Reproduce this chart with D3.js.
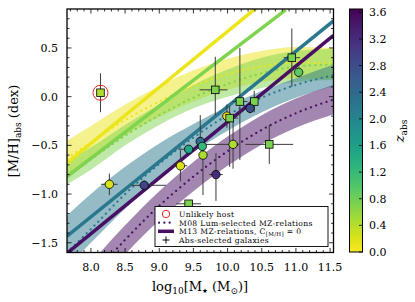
<!DOCTYPE html>
<html>
<head>
<meta charset="utf-8">
<script src="https://cdn.jsdelivr.net/npm/d3@7"></script>
<style>
  body { margin: 0; background: #fff; }
  text { font-family: "DejaVu Serif", serif; fill: #000; }
</style>
</head>
<body>
<svg id="chart" width="415" height="302"></svg>
<script>
// ---- data ----
// M08 luminosity-selected MZ relations (dotted centre + shaded band), one per redshift
var mzMass = [7.65, 8.0, 8.5, 9.0, 9.5, 10.0, 10.5, 11.0, 11.55];
var m08Z = [0.1, 0.7, 2.2, 3.5];
var m08Centre = [
    [-0.63, -0.47, -0.24, -0.05, 0.11, 0.23, 0.31, 0.35, 0.34],
    [-0.80, -0.64, -0.40, -0.19, -0.01, 0.13, 0.24, 0.31, 0.33],
    [-1.60, -1.36, -1.00, -0.69, -0.42, -0.19, -0.01, 0.12, 0.22],
    [-2.16, -1.86, -1.47, -1.12, -0.82, -0.56, -0.34, -0.17, -0.03]
];
var m08Upper = [
    [-0.45, -0.30, -0.08, 0.11, 0.27, 0.39, 0.47, 0.51, 0.50],
    [-0.66, -0.52, -0.29, -0.08, 0.12, 0.28, 0.40, 0.47, 0.49],
    [-1.22, -1.00, -0.72, -0.48, -0.28, -0.10, 0.06, 0.19, 0.33],
    [-2.01, -1.71, -1.32, -0.97, -0.67, -0.41, -0.19, -0.02, 0.12]
];
var m08Lower = [
    [-0.80, -0.63, -0.40, -0.21, -0.05, 0.07, 0.15, 0.19, 0.18],
    [-0.90, -0.75, -0.50, -0.29, -0.12, 0.00, 0.09, 0.15, 0.17],
    [-1.75, -1.50, -1.15, -0.84, -0.57, -0.35, -0.16, -0.01, 0.11],
    [-2.31, -2.01, -1.62, -1.27, -0.97, -0.71, -0.49, -0.32, -0.18]
];

// M13 MZ relations (straight lines), end points [logM, [M/H]]
var m13Z = [0.1, 0.7, 2.2, 3.5];
var m13Lines = [
    [[7.65, -0.68], [10.47, 0.94]],
    [[7.65, -0.82], [10.85, 0.89]],
    [[7.65, -1.433], [11.55, 0.779]],
    [[7.65, -1.608], [11.55, 0.63]]
];

// absorption-selected galaxies
var galMass  = [8.14, 8.27, 8.78, 9.31, 9.43, 9.60, 9.63, 9.64, 9.83, 9.43, 9.82, 10.18, 10.39, 10.33, 9.99, 10.03, 10.08, 10.61, 10.94, 11.04];
var galMH    = [0.04, -0.90, -0.91, -0.71, -0.54, -0.46, -0.51, -0.60, -0.80, -1.10, 0.07, -0.05, -0.05, -0.12, -0.20, -0.22, -0.49, -0.49, 0.40, 0.25];
var galZ     = [0.45, 0.2, 2.9, 0.2, 1.5, 2.3, 1.2, 0.45, 3.2, 0.72, 0.72, 0.72, 0.72, 2.8, 0.05, 0.72, 0.45, 0.72, 0.72, 0.9];
var galShape = ["s", "c", "c", "c", "c", "c", "c", "c", "c", "s", "s", "s", "s", "c", "c", "s", "c", "s", "s", "c"];
var galXLo   = [0, 0.12, 0.19, 0.10, 0.15, 0, 0, 0, 0.10, 0.18, 0.23, 0.11, 0, 0, 0, 0.10, 0.41, 0.35, 0.12, 0];
var galXHi   = [0, 0.12, 0.32, 0.10, 0.12, 0, 0, 0, 0.10, 0.18, 0.18, 0.11, 0, 0, 0, 0.12, 0, 0.35, 0.12, 0];
var galYLo   = [0.20, 0.11, 0.05, 0.16, 0, 0, 0, 0.41, 0.27, 0.02, 0.26, 0.60, 0.11, 0.05, 0.12, 0.50, 0.25, 0.20, 0.30, 0.05];
var galYHi   = [0.20, 0.11, 0.05, 0.16, 0, 0.27, 0, 0.10, 0.22, 0.02, 0.34, 0.55, 0.11, 0.05, 0.12, 0.12, 0.25, 0.20, 0.30, 0.05];
var unlikelyHost = [0];   // index of the unlikely host

var xTicks = [8.0, 8.5, 9.0, 9.5, 10.0, 10.5, 11.0, 11.5];
var yTicks = [-1.5, -1.0, -0.5, 0.0, 0.5];
var zTicks = [0.0, 0.4, 0.8, 1.2, 1.6, 2.0, 2.4, 2.8, 3.2, 3.6];

var legendLabels = ["Unlikely host", "M08 Lum-selected MZ-relations", "M13 MZ-relations, C", "Abs-selected galaxies"];

// ---- scales ----
var svg = d3.select("#chart");
var x = d3.scaleLinear().domain([7.65, 11.55]).range([67, 333.5]);
var y = d3.scaleLinear().domain([-1.6, 0.9]).range([252.5, 9]);
var zc = d3.scaleLinear().domain([0, 3.65]).range([252, 9]);
var zColor = function(z) { return d3.interpolateViridis(1 - z / 3.65); };

function fmt(v) { return d3.format(".1f")(v).replace("-", "\u2212"); }

svg.append("defs").append("clipPath").attr("id", "plotclip")
    .append("rect").attr("x", 67).attr("y", 9).attr("width", 266.5).attr("height", 243.5);

var plot = svg.append("g").attr("clip-path", "url(#plotclip)");

// bands
var band = d3.area()
    .x(function(d) { return x(d[0]); })
    .y0(function(d) { return y(d[1]); })
    .y1(function(d) { return y(d[2]); })
    .curve(d3.curveMonotoneX);
var centre = d3.line()
    .x(function(d) { return x(d[0]); })
    .y(function(d) { return y(d[1]); })
    .curve(d3.curveMonotoneX);

m08Z.forEach(function(z, k) {
    var pts = mzMass.map(function(m, i) { return [m, m08Lower[k][i], m08Upper[k][i]]; });
    plot.append("path")
        .attr("d", band(pts))
        .attr("fill", zColor(z))
        .attr("fill-opacity", 0.5)
        .attr("stroke", "none");
});

m08Z.forEach(function(z, k) {
    var pts = mzMass.map(function(m, i) { return [m, m08Centre[k][i]]; });
    plot.append("path")
        .attr("d", centre(pts))
        .attr("fill", "none")
        .attr("stroke", zColor(z))
        .attr("stroke-width", 2.2)
        .attr("stroke-linecap", "round")
        .attr("stroke-dasharray", "0.1,5.4");
});

m13Z.forEach(function(z, k) {
    plot.append("path")
        .attr("d", d3.line().x(function(d) { return x(d[0]); }).y(function(d) { return y(d[1]); })(m13Lines[k]))
        .attr("fill", "none")
        .attr("stroke", zColor(z))
        .attr("stroke-width", 3.5);
});

// error bars
var bars = plot.append("g").attr("stroke", "#3a3a3a").attr("stroke-width", 1);
galMass.forEach(function(m, i) {
    if (galXLo[i] + galXHi[i] > 0)
        bars.append("line")
            .attr("x1", x(m - galXLo[i])).attr("x2", x(m + galXHi[i]))
            .attr("y1", y(galMH[i])).attr("y2", y(galMH[i]));
    if (galYLo[i] + galYHi[i] > 0)
        bars.append("line")
            .attr("x1", x(m)).attr("x2", x(m))
            .attr("y1", y(galMH[i] - galYLo[i])).attr("y2", y(galMH[i] + galYHi[i]));
});

// markers
galMass.forEach(function(m, i) {
    var cx = x(m), cy = y(galMH[i]);
    if (galShape[i] === "s") {
        plot.append("rect")
            .attr("x", cx - 3.8).attr("y", cy - 3.8)
            .attr("width", 7.6).attr("height", 7.6)
            .attr("fill", zColor(galZ[i]))
            .attr("stroke", "#000").attr("stroke-width", 0.8);
    } else {
        plot.append("circle")
            .attr("cx", cx).attr("cy", cy).attr("r", 4.2)
            .attr("fill", zColor(galZ[i]))
            .attr("stroke", "#000").attr("stroke-width", 0.8);
    }
});

unlikelyHost.forEach(function(i) {
    plot.append("circle")
        .attr("cx", x(galMass[i])).attr("cy", y(galMH[i])).attr("r", 7.5)
        .attr("fill", "none").attr("stroke", "#e8231c").attr("stroke-width", 1);
});

// ---- axes frame and ticks ----
var frame = svg.append("g");
var minorX = d3.range(7.7, 11.55, 0.1), minorY = d3.range(-1.6, 0.9, 0.1);
minorX.forEach(function(v) {
    var major = xTicks.some(function(t) { return Math.abs(t - v) < 1e-6; });
    var len = major ? 4.5 : 2.5;
    frame.append("line").attr("x1", x(v)).attr("x2", x(v)).attr("y1", 252.5).attr("y2", 252.5 - len).attr("stroke", "#000").attr("stroke-width", 0.8);
    frame.append("line").attr("x1", x(v)).attr("x2", x(v)).attr("y1", 9).attr("y2", 9 + len).attr("stroke", "#000").attr("stroke-width", 0.8);
});
minorY.forEach(function(v) {
    var major = yTicks.some(function(t) { return Math.abs(t - v) < 1e-6; });
    var len = major ? 4.5 : 2.5;
    frame.append("line").attr("x1", 67).attr("x2", 67 + len).attr("y1", y(v)).attr("y2", y(v)).attr("stroke", "#000").attr("stroke-width", 0.8);
    frame.append("line").attr("x1", 333.5).attr("x2", 333.5 - len).attr("y1", y(v)).attr("y2", y(v)).attr("stroke", "#000").attr("stroke-width", 0.8);
});
frame.append("rect").attr("x", 67).attr("y", 9).attr("width", 266.5).attr("height", 243.5)
    .attr("fill", "none").attr("stroke", "#000").attr("stroke-width", 1.3);

svg.selectAll(".xt").data(xTicks).enter().append("text")
    .attr("x", function(d) { return x(d); }).attr("y", 271)
    .attr("text-anchor", "middle").style("font-size", "11px")
    .text(fmt);
svg.selectAll(".yt").data(yTicks).enter().append("text")
    .attr("x", 58).attr("y", function(d) { return y(d) + 4; })
    .attr("text-anchor", "end").style("font-size", "11px")
    .text(fmt);

// axis labels
var xl = svg.append("text").attr("x", 200).attr("y", 291).attr("text-anchor", "middle").style("font-size", "13px");
xl.append("tspan").text("log");
xl.append("tspan").attr("dy", 3).style("font-size", "9px").text("10");
xl.append("tspan").attr("dy", -3).text("[M");
xl.append("tspan").attr("dy", 2).style("font-size", "6.5px").style("font-family", "DejaVu Sans").text("\u2605");
xl.append("tspan").attr("dy", -2).text(" (M");
xl.append("tspan").attr("dy", 3).style("font-size", "9px").text("\u2299");
xl.append("tspan").attr("dy", -3).text(")]");

var yl = svg.append("text").attr("transform", "translate(18,131) rotate(-90)").attr("text-anchor", "middle").style("font-size", "13px");
yl.append("tspan").text("[M/H]");
yl.append("tspan").attr("dy", 3).style("font-size", "9px").text("abs");
yl.append("tspan").attr("dy", -3).text(" (dex)");

// ---- legend ----
var lg = svg.append("g");
lg.append("rect").attr("x", 155).attr("y", 206.5).attr("width", 173).attr("height", 40)
    .attr("fill", "#fff").attr("stroke", "#000").attr("stroke-width", 0.9);
var rows = [214, 222.7, 231.3, 240];
lg.append("circle").attr("cx", 166).attr("cy", rows[0]).attr("r", 3.7)
    .attr("fill", "none").attr("stroke", "#e8231c").attr("stroke-width", 1);
lg.append("line").attr("x1", 159).attr("x2", 174).attr("y1", rows[1]).attr("y2", rows[1])
    .attr("stroke", zColor(3.5)).attr("stroke-width", 2.2).attr("stroke-linecap", "round").attr("stroke-dasharray", "0.1,5.2");
lg.append("line").attr("x1", 158).attr("x2", 174).attr("y1", rows[2]).attr("y2", rows[2])
    .attr("stroke", zColor(3.5)).attr("stroke-width", 3.5);
lg.append("line").attr("x1", 166).attr("x2", 166).attr("y1", rows[3] - 3.5).attr("y2", rows[3] + 3.5).attr("stroke", "#000").attr("stroke-width", 1);
lg.append("line").attr("x1", 162.5).attr("x2", 169.5).attr("y1", rows[3]).attr("y2", rows[3]).attr("stroke", "#000").attr("stroke-width", 1);

legendLabels.forEach(function(s, i) {
    var t = lg.append("text").attr("x", 179).attr("y", rows[i] + 2.8)
        .style("font-size", "7.6px").style("letter-spacing", "0.35px").text(s);
    if (i === 2) {
        t.append("tspan").attr("dy", 1.8).style("font-size", "5.5px").text("[M/H]");
        t.append("tspan").attr("dy", -1.8).text(" = 0");
    }
});

// ---- colour bar ----
var grad = svg.select("defs").append("linearGradient").attr("id", "cbgrad")
    .attr("x1", 0).attr("y1", 1).attr("x2", 0).attr("y2", 0);
d3.range(0, 1.0001, 0.05).forEach(function(t) {
    grad.append("stop").attr("offset", t).attr("stop-color", d3.interpolateViridis(1 - t));
});
svg.append("rect").attr("x", 349.5).attr("y", 9).attr("width", 13).attr("height", 243)
    .attr("fill", "url(#cbgrad)").attr("stroke", "#000").attr("stroke-width", 1);
zTicks.forEach(function(v) {
    svg.append("line").attr("x1", 362.5).attr("x2", 359).attr("y1", zc(v)).attr("y2", zc(v))
        .attr("stroke", "#000").attr("stroke-width", 0.8);
    svg.append("text").attr("x", 369).attr("y", zc(v) + 4).style("font-size", "11px").text(d3.format(".1f")(v));
});
var zl = svg.append("text").attr("transform", "translate(404,131) rotate(-90)").attr("text-anchor", "middle").style("font-size", "13px");
zl.append("tspan").style("font-style", "italic").text("z");
zl.append("tspan").attr("dy", 3).style("font-size", "9px").text("abs");
</script>
</body>
</html>
